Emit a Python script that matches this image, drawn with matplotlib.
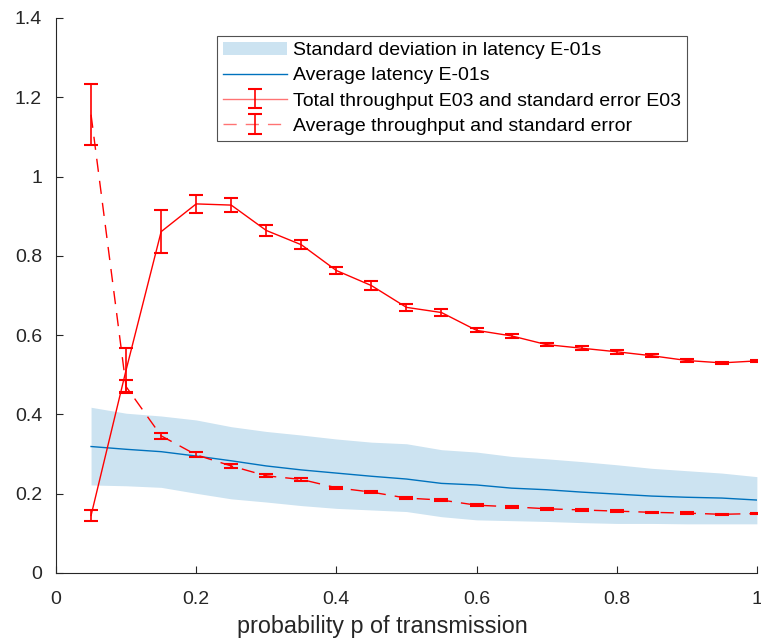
import numpy as np
import matplotlib
matplotlib.use("Agg")
import matplotlib.pyplot as plt
from matplotlib.lines import Line2D
from matplotlib.ticker import FormatStrFormatter

plt.rcParams['font.family'] = ['Liberation Sans', 'DejaVu Sans']

# probability of transmission
p = [0.05, 0.10, 0.15, 0.20, 0.25, 0.30, 0.35, 0.40, 0.45, 0.50,
     0.55, 0.60, 0.65, 0.70, 0.75, 0.80, 0.85, 0.90, 0.95, 1.00]

# average latency and its std band (E-01 s)
lat_mean = [0.319, 0.312, 0.306, 0.295, 0.283, 0.270, 0.260, 0.252, 0.244, 0.237,
            0.226, 0.222, 0.214, 0.210, 0.204, 0.199, 0.194, 0.191, 0.189, 0.184]
lat_upper = [0.418, 0.403, 0.396, 0.386, 0.369, 0.357, 0.348, 0.338, 0.330, 0.326,
             0.311, 0.305, 0.294, 0.288, 0.281, 0.273, 0.264, 0.258, 0.252, 0.243]
lat_lower = [0.222, 0.220, 0.216, 0.201, 0.187, 0.179, 0.170, 0.163, 0.159, 0.155,
             0.142, 0.134, 0.132, 0.130, 0.127, 0.125, 0.125, 0.124, 0.124, 0.124]

# total throughput (E03) and standard error
tot_tp = [0.145, 0.512, 0.861, 0.931, 0.928, 0.864, 0.828, 0.763, 0.725, 0.670,
          0.657, 0.612, 0.598, 0.576, 0.567, 0.558, 0.548, 0.536, 0.530, 0.535]
tot_err = [0.015, 0.056, 0.055, 0.022, 0.018, 0.013, 0.012, 0.009, 0.011, 0.009,
           0.008, 0.005, 0.006, 0.004, 0.005, 0.005, 0.004, 0.003, 0.003, 0.002]

# average throughput and standard error
avg_tp = [1.156, 0.470, 0.346, 0.298, 0.270, 0.245, 0.236, 0.215, 0.204, 0.189,
          0.184, 0.171, 0.167, 0.162, 0.159, 0.156, 0.153, 0.151, 0.148, 0.150]
avg_err = [0.077, 0.017, 0.008, 0.006, 0.005, 0.004, 0.004, 0.003, 0.003, 0.003,
           0.003, 0.002, 0.002, 0.002, 0.002, 0.002, 0.002, 0.002, 0.002, 0.002]

fig = plt.figure(figsize=(7.61, 6.42), dpi=100)
ax = fig.add_axes([0.0736, 0.1075, 0.921, 0.8645])

ax.fill_between(p, lat_lower, lat_upper, color='#cce3f1', lw=0,
                label='Standard deviation in latency E-01s')
ax.plot(p, lat_mean, color='#0072BD', lw=1, label='Average latency E-01s')
ax.errorbar(p, tot_tp, yerr=tot_err, color='red', lw=1, elinewidth=1.2,
            capsize=4.7, capthick=1.5,
            label='Total throughput E03 and standard error E03')
ax.errorbar(p, avg_tp, yerr=avg_err, color='red', lw=1, ls=(0, (9.5, 6.5)),
            elinewidth=1.2, capsize=4.7, capthick=1.5,
            label='Average throughput and standard error')

ax.set_xlim(0, 1)
ax.set_ylim(0, 1.4)
ax.set_xticks(np.arange(0, 1.01, 0.2))
ax.set_yticks(np.arange(0, 1.41, 0.2))
ax.xaxis.set_major_formatter(FormatStrFormatter('%g'))
ax.yaxis.set_major_formatter(FormatStrFormatter('%g'))
ax.tick_params(direction='in', labelsize=14, length=5, width=0.8, colors='#262626')
ax.tick_params(axis='y', pad=10)
ax.tick_params(axis='x', pad=13)
for s in ['top', 'right']:
    ax.spines[s].set_visible(False)
for s in ['left', 'bottom']:
    ax.spines[s].set_color('#262626')
    ax.spines[s].set_linewidth(0.8)

ax.set_xlabel('probability p of transmission', fontsize=16.8, color='#262626')
ax.xaxis.set_label_coords(0.465, -0.097)
ax.xaxis.label.set_va('center')

leg = ax.legend(loc='upper left', bbox_to_anchor=(0.230, 0.968), fontsize=14,
                frameon=True, fancybox=False, edgecolor='#262626',
                handlelength=3.3, handletextpad=0.3, borderpad=0.3,
                labelspacing=0.39, borderaxespad=0)
leg.get_frame().set_linewidth(0.8)
# lighter connecting line in the legend entries, as in the original
for ln in leg.findobj(Line2D):
    if ln.get_linestyle() not in ('None', '') and ln.get_color() == 'red':
        ln.set_alpha(0.55)

fig.savefig('out.png', dpi=100)
